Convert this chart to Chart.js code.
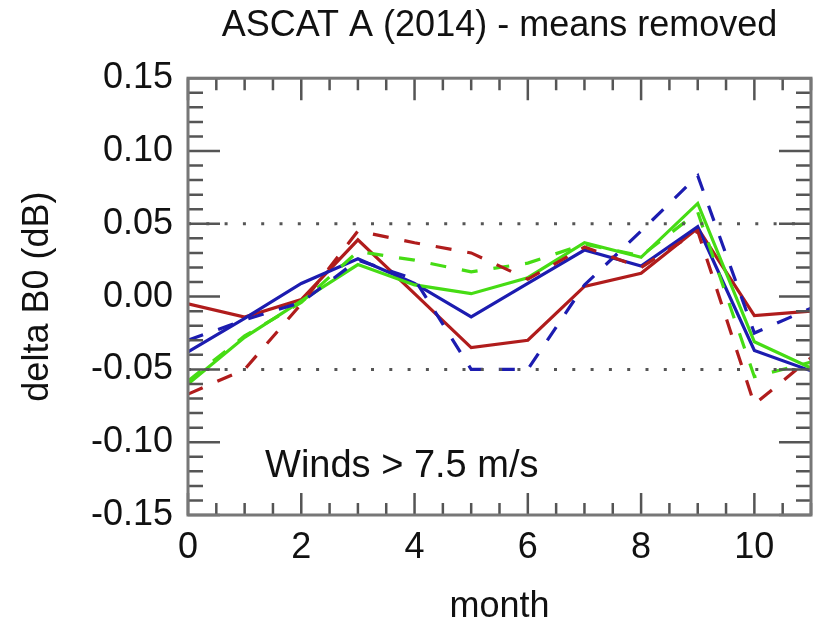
<!DOCTYPE html>
<html>
<head>
<meta charset="utf-8">
<script src="https://cdn.jsdelivr.net/npm/chart.js@4.4.0/dist/chart.umd.min.js"></script>
<style>
  html, body { margin: 0; padding: 0; background: #fff; }
  #wrap { width: 813px; height: 626px; }
</style>
</head>
<body>
<div id="wrap"><canvas id="chart"></canvas></div>
<script>
// monthly deltas
const months = [0, 1, 2, 3, 4, 5, 6, 7, 8, 9, 10, 11];
const redSolid    = [-0.005, -0.014, -0.002, 0.039, 0.002, -0.035, -0.030, 0.007, 0.016, 0.047, -0.013, -0.010];
const redDashed   = [-0.067, -0.050, -0.005, 0.045, 0.037, 0.030, 0.012, 0.034, 0.020, 0.045, -0.074, -0.042];
const blueSolid   = [-0.038, -0.015, 0.009, 0.026, 0.009, -0.014, 0.009, 0.032, 0.021, 0.048, -0.037, -0.051];
const blueDashed  = [-0.030, -0.016, -0.004, 0.025, 0.012, -0.050, -0.050, 0.008, 0.045, 0.083, -0.025, -0.008];
const greenSolid  = [-0.060, -0.028, -0.003, 0.022, 0.008, 0.002, 0.013, 0.037, 0.027, 0.064, -0.031, -0.049];
const greenDashed = [-0.058, -0.027, -0.004, 0.031, 0.025, 0.017, 0.023, 0.036, 0.028, 0.058, -0.055, -0.045];

const refLevels = [0.05, -0.05];
const xTickLabels = [0, 2, 4, 6, 8, 10];
const yTickLabels = [-0.15, -0.10, -0.05, 0.00, 0.05, 0.10, 0.15];

const noteText = 'Winds > 7.5 m/s';
const noteAt = [1.36, -0.124];

const FONT = '"Liberation Sans", Arial, sans-serif';
const RED = '#b01c1c';
const BLUE = '#1c1cb0';
const GREEN = '#46dc14';

function pts(vals) {
    return months.map((m, i) => ({ x: m, y: vals[i] }));
}

function line(vals, color, dashed) {
    return {
        data: pts(vals),
        borderColor: color,
        borderWidth: 3.2,
        borderDash: dashed ? [16, 16] : [],
        pointRadius: 0,
        tension: 0,
        fill: false
    };
}

const refSets = refLevels.map(v => ({
    data: [{ x: months[0], y: v }, { x: months[months.length - 1], y: v }],
    borderColor: '#555',
    borderWidth: 3,
    borderDash: [3, 15.3],
    pointRadius: 0,
    fill: false
}));

// IDL style box with inward ticks on all sides + the note
const framePlugin = {
    id: 'frame',
    afterDatasetsDraw(chart) {
        const { ctx, chartArea: a, scales: { x, y } } = chart;
        ctx.save();
        ctx.strokeStyle = '#555';
        ctx.lineWidth = 2.5;
        ctx.beginPath();
        for (let m = 0; m <= 11; m += 0.5) {
            const px = x.getPixelForValue(m);
            const len = m % 2 === 0 ? 22 : 12;
            ctx.moveTo(px, a.top); ctx.lineTo(px, a.top + len);
            ctx.moveTo(px, a.bottom); ctx.lineTo(px, a.bottom - len);
        }
        for (let i = -15; i <= 15; i++) {
            const py = y.getPixelForValue(i / 100);
            const len = i % 5 === 0 ? 32 : 15;
            ctx.moveTo(a.left, py); ctx.lineTo(a.left + len, py);
            ctx.moveTo(a.right, py); ctx.lineTo(a.right - len, py);
        }
        ctx.stroke();
        ctx.strokeStyle = '#777';
        ctx.lineWidth = 3;
        ctx.strokeRect(a.left, a.top, a.right - a.left, a.bottom - a.top);

        ctx.fillStyle = '#111';
        ctx.font = '38px ' + FONT;
        ctx.textBaseline = 'alphabetic';
        ctx.fillText(noteText, x.getPixelForValue(noteAt[0]), y.getPixelForValue(noteAt[1]));
        ctx.restore();
    }
};

new Chart(document.getElementById('chart'), {
    type: 'line',
    data: {
        datasets: [
            ...refSets,
            line(redDashed, RED, true),
            line(blueDashed, BLUE, true),
            line(greenDashed, GREEN, true),
            line(greenSolid, GREEN, false),
            line(blueSolid, BLUE, false),
            line(redSolid, RED, false)
        ]
    },
    options: {
        responsive: true,
        maintainAspectRatio: false,
        animation: false,
        layout: { padding: { left: 0, right: 2, top: 0, bottom: 0 } },
        plugins: {
            legend: { display: false },
            tooltip: { enabled: false },
            title: {
                display: true,
                fullSize: false,
                text: 'ASCAT A (2014) - means removed',
                color: '#111',
                font: { size: 36, family: FONT, weight: 'normal' },
                padding: { top: 4, bottom: 31 }
            }
        },
        scales: {
            x: {
                type: 'linear',
                min: 0,
                max: 11,
                afterFit: s => { s.height = 111; },
                afterBuildTicks: s => { s.ticks = xTickLabels.map(v => ({ value: v })); },
                grid: { display: false },
                border: { display: false },
                ticks: {
                    color: '#111',
                    padding: 3,
                    maxRotation: 0,
                    font: { size: 36, family: FONT }
                },
                title: {
                    display: true,
                    text: 'month',
                    color: '#111',
                    font: { size: 36, family: FONT },
                    padding: { top: 0, bottom: -3 }
                }
            },
            y: {
                min: -0.15,
                max: 0.15,
                afterFit: s => { s.width = 188; },
                afterBuildTicks: s => { s.ticks = yTickLabels.map(v => ({ value: v })); },
                grid: { display: false },
                border: { display: false },
                ticks: {
                    color: '#111',
                    padding: 7,
                    font: { size: 36, family: FONT },
                    callback: v => v.toFixed(2)
                },
                title: {
                    display: true,
                    text: 'delta B0 (dB)',
                    color: '#111',
                    font: { size: 36, family: FONT },
                    padding: { top: 16, bottom: 0 }
                }
            }
        }
    },
    plugins: [framePlugin]
});
</script>
</body>
</html>
